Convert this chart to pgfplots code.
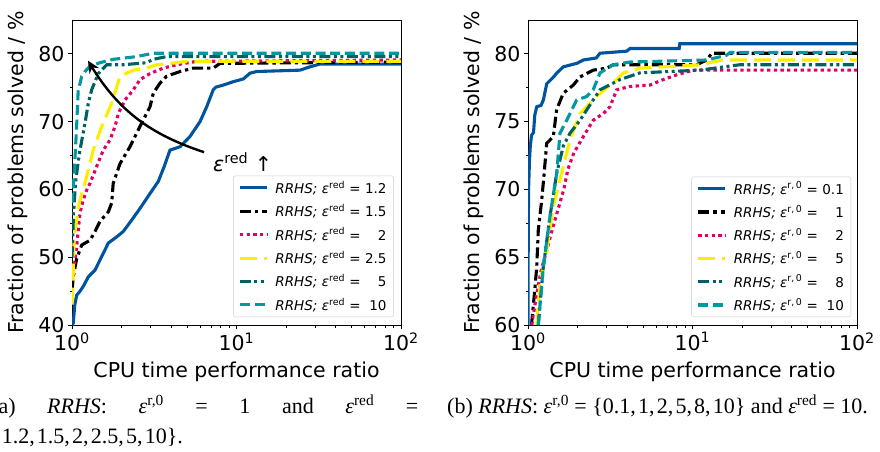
\documentclass[border=0pt]{standalone}
\usepackage{fontspec}
\setmainfont{DejaVu Sans}
\newfontfamily\capfont{Liberation Serif}
\usepackage{pgfplots}
\pgfplotsset{compat=1.18}
\usetikzlibrary{arrows.meta}

\definecolor{rwthblue}{HTML}{00549F}
\definecolor{rwthmag}{HTML}{E30066}
\definecolor{rwthyel}{HTML}{FFED00}
\definecolor{rwthpet}{HTML}{006165}
\definecolor{rwthtur}{HTML}{0098A1}

\newcommand{\bigf}{\fontsize{20.5}{24}\selectfont}
\newcommand{\legA}[1]{\textit{RRHS;} \textit{ε}\textsuperscript{red} = \makebox[1.6em][r]{#1}}
\newcommand{\legB}[1]{\textit{RRHS;} \textit{ε}\textsuperscript{r,\,0} = \makebox[1.6em][r]{#1}}
\newcommand{\cm}{,\kern0.1em}

\tikzset{
 s1/.style={color=rwthblue, line width=3.1pt},
 s2/.style={color=black, line width=3.1pt, dash pattern=on 11pt off 4pt on 3.3pt off 4pt},
 s3/.style={color=rwthmag, line width=3.1pt, dash pattern=on 3.3pt off 3.4pt},
 s4/.style={color=rwthyel, line width=3.1pt, dash pattern=on 17pt off 7pt},
 s5/.style={color=rwthpet, line width=3.1pt, dash pattern=on 11pt off 3.5pt on 3pt off 3.5pt on 3pt off 3.5pt},
 s6/.style={color=rwthtur, line width=3.1pt, dash pattern=on 10pt off 4.7pt},
}

\begin{document}
\begin{tikzpicture}
\begin{axis}[at={(72pt,126pt)}, anchor=south west,
  xmode=log,
  scale only axis, width=329pt, height=305pt,
  xmin=1, xmax=100,
  xtick={1,10,100},
  xticklabels={10\textsuperscript{0},10\textsuperscript{1},10\textsuperscript{2}},
  tick align=outside,
  xtick pos=left, ytick pos=left,
  major tick length=4pt, minor tick length=2.5pt,
  tick style={black, line width=0.9pt},
  axis line style={line width=0.9pt},
  ticklabel style={font=\bigf},
  label style={font=\bigf},
  xlabel={CPU time performance ratio},
  ylabel={Fraction of problems solved / \%},
  xlabel style={at={(axis description cs:0.5,-0.154)}, anchor=center},
  ylabel style={at={(axis description cs:-0.164,0.5)}, anchor=center},
  minor y tick num=1,
  legend cell align=left,
  legend image code/.code={\draw[#1] (0pt,0pt) -- (27pt,0pt);},
  legend style={at={(0.978,0.026)}, anchor=south east,
    font=\fontsize{13.5}{16}\selectfont,
    draw=black!20, rounded corners=2pt, fill=white,
    inner xsep=5pt, inner ysep=3pt, row sep=5.5pt,
    /tikz/every odd column/.append style={column sep=5pt}},
  ymin=40, ymax=85, ytick={40,50,60,70,80}, yticklabels={40,50,60,70,80}]
\addplot[s1] coordinates {(1,40)(1.018,40.3)(1.04,43)(1.068,44.4)(1.12,45)(1.171,45.7)(1.256,47.1)(1.38,48.1)(1.515,50.1)(1.663,52.1)(1.869,53)(2.05,53.8)(2.31,55.5)(2.59,57.2)(2.98,59.4)(3.35,61.2)(3.65,63.5)(3.94,65.8)(4.54,66.3)(5.21,67.8)(6.0,70)(6.59,72.2)(7.22,74.7)(7.5,75.1)(8.32,75.4)(9.56,75.9)(11,76.3)(12.08,77.15)(13.27,77.4)(24.3,77.6)(28,78.1)(32.2,78.5)(100,78.5)};
\addlegendentry{\legA{1.2}}
\addplot[s2] coordinates {(1,45)(1.018,47.1)(1.068,49.8)(1.146,51.8)(1.287,52.5)(1.38,53.8)(1.48,55.3)(1.663,56.7)(1.743,58)(1.78,60.9)(1.958,63.8)(2.25,66.3)(2.59,69.3)(2.98,72.2)(3.12,74.2)(3.43,75.7)(3.76,76.7)(4.54,77.4)(5.46,77.9)(7.22,77.9)(7.94,78.6)(100,78.8)};
\addlegendentry{\legA{1.5}}
\addplot[s3] coordinates {(1,47)(1.018,48.6)(1.043,49.6)(1.068,51.6)(1.092,54)(1.118,56.5)(1.171,58.45)(1.228,59.9)(1.287,60.9)(1.413,63.4)(1.55,65.8)(1.702,67.3)(1.827,69.3)(1.913,71.2)(2.1,73.2)(2.36,74.7)(2.59,76.2)(2.98,77.1)(3.59,77.9)(4.33,78.4)(5.73,78.9)(100,79.1)};
\addlegendentry{\legA{2}}
\addplot[s4] coordinates {(1,43)(1.018,47.7)(1.028,53)(1.107,58)(1.2,61)(1.347,65.8)(1.515,69.3)(1.743,72.7)(1.958,76.7)(2.36,77.6)(2.84,77.9)(3.27,78.4)(4.33,78.7)(4.86,78.9)(100,78.9)};
\addlegendentry{\legA{2.5}}
\addplot[s5] coordinates {(1,50)(1.02,56)(1.05,61)(1.09,64)(1.118,65.8)(1.2,69.8)(1.256,72.7)(1.317,74.7)(1.445,77.1)(1.626,78.4)(2.05,78.4)(2.84,78.7)(3.12,79.2)(3.76,79.6)(100,79.6)};
\addlegendentry{\legA{5}}
\addplot[s6] coordinates {(1,58)(1.03,62)(1.05,66)(1.07,70)(1.09,74.5)(1.146,76.7)(1.2,77.4)(1.287,78.2)(1.48,78.7)(1.78,79.2)(2.47,79.6)(3.12,80.1)(100,80.1)};
\addlegendentry{\legA{10}}
\draw[line width=2.4pt, -{Stealth[length=12pt, width=11pt]}] (axis cs:6.35,65.5) to[bend left=20] (axis cs:1.25,79);
\node[anchor=west, inner sep=0pt, font=\bigf] at (axis cs:7.2,64.06) {\textit{ε}\textsuperscript{red} ↑};
\end{axis}

\begin{axis}[at={(528pt,126pt)}, anchor=south west,
  xmode=log,
  scale only axis, width=329pt, height=305pt,
  xmin=1, xmax=100,
  xtick={1,10,100},
  xticklabels={10\textsuperscript{0},10\textsuperscript{1},10\textsuperscript{2}},
  tick align=outside,
  xtick pos=left, ytick pos=left,
  major tick length=4pt, minor tick length=2.5pt,
  tick style={black, line width=0.9pt},
  axis line style={line width=0.9pt},
  ticklabel style={font=\bigf},
  label style={font=\bigf},
  xlabel={CPU time performance ratio},
  ylabel={Fraction of problems solved / \%},
  xlabel style={at={(axis description cs:0.5,-0.154)}, anchor=center},
  ylabel style={at={(axis description cs:-0.164,0.5)}, anchor=center},
  minor y tick num=1,
  legend cell align=left,
  legend image code/.code={\draw[#1] (0pt,0pt) -- (27pt,0pt);},
  legend style={at={(0.982,0.026)}, anchor=south east,
    font=\fontsize{13.5}{16}\selectfont,
    draw=black!20, rounded corners=2pt, fill=white,
    inner xsep=5pt, inner ysep=3pt, row sep=5.5pt,
    /tikz/every odd column/.append style={column sep=5pt}},
  ymin=60, ymax=82.5, ytick={60,65,70,75,80}, yticklabels={60,65,70,75,80}]
\addplot[s1] coordinates {(1,60)(1.003,66)(1.008,70)(1.02,72)(1.03,73)(1.05,74)(1.08,74.2)(1.1,75.5)(1.13,76.1)(1.2,76.2)(1.24,76.6)(1.3,77.8)(1.35,78)(1.43,78.3)(1.5,78.6)(1.64,79.05)(1.98,79.3)(2.17,79.55)(2.6,79.7)(2.74,80.05)(3.98,80.2)(4.17,80.4)(8.3,80.4)(8.37,80.75)(100,80.75)};
\addlegendentry{\legB{0.1}}
\addplot[s2] coordinates {(1.05,60)(1.1,62.6)(1.13,64.3)(1.155,67)(1.211,69.2)(1.25,71)(1.299,73.4)(1.425,73.9)(1.494,75.9)(1.639,77.1)(1.886,77.7)(2.07,78.3)(2.49,78.8)(3.01,78.95)(3.3,79.2)(10.6,79.2)(12.2,79.55)(13.1,80.05)(100,80.05)};
\addlegendentry{\legB{1}}
\addplot[s3] coordinates {(1.053,60)(1.12,62)(1.2,64)(1.3,65.5)(1.4,67)(1.52,68.5)(1.65,70)(1.75,71.5)(1.9,72.7)(2.17,73.9)(2.49,75.1)(2.87,75.6)(3.15,76.1)(3.46,77.35)(4.17,77.6)(5.51,77.7)(6.63,78.1)(8.0,78.45)(10.1,78.8)(100,78.8)};
\addlegendentry{\legB{2}}
\addplot[s4] coordinates {(1.13,60)(1.183,63.1)(1.299,65.5)(1.425,68.7)(1.639,71.7)(1.8,73.65)(2.07,75.6)(2.61,76.85)(3.46,78.1)(3.8,78.6)(4.79,78.95)(11.1,79.2)(15.3,79.55)(100,79.55)};
\addlegendentry{\legB{5}}
\addplot[s5] coordinates {(1.155,60)(1.239,64.3)(1.36,68)(1.494,71.2)(1.639,73.2)(1.8,74.15)(2.07,75.1)(2.49,76.6)(2.74,77.35)(3.62,78.1)(4.79,78.6)(11.1,78.8)(19.4,79.2)(100,79.2)};
\addlegendentry{\legB{8}}
\addplot[s6] coordinates {(1.155,60)(1.239,64.3)(1.36,68)(1.494,71.2)(1.565,74.15)(1.719,75.1)(1.976,76.6)(2.27,76.85)(2.49,77.35)(2.74,78.6)(3.3,79.2)(4.17,79.4)(12.2,79.55)(16.1,79.9)(16.9,80.1)(100,80.1)};
\addlegendentry{\legB{10}}
\end{axis}

\node[anchor=north west, text width=427pt, align=justify, inner sep=0pt,
  font=\capfont\fontsize{22}{30}\selectfont] at (-9pt,56pt)
  {(a)\ \textit{RRHS}: \textit{ε}\textsuperscript{r,0} = 1 and \textit{ε}\textsuperscript{red} =\linebreak \{1.2\cm1.5\cm2\cm2.5\cm5\cm10\}.};
\node[anchor=north west, inner sep=0pt,
  font=\capfont\fontsize{22}{30}\selectfont] at (447pt,56pt)
  {(b) \textit{RRHS}: \textit{ε}\textsuperscript{r,0} = \{0.1\cm1\cm2\cm5\cm8\cm10\} and \textit{ε}\textsuperscript{red} = 10.};

\pgfresetboundingbox
\useasboundingbox (0,0) rectangle (880pt,451pt);
\end{tikzpicture}
\end{document}
